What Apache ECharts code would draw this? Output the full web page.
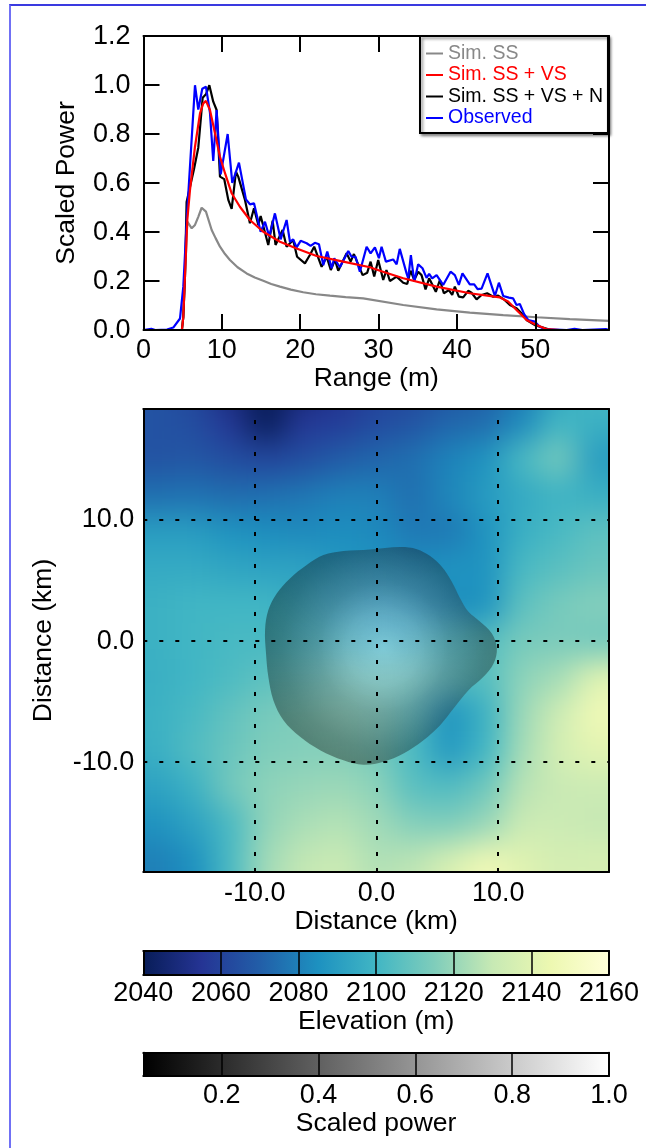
<!DOCTYPE html>
<html>
<head>
<meta charset="utf-8">
<title>Scaled power and elevation</title>
<script src="https://cdn.jsdelivr.net/npm/echarts@6/dist/echarts.min.js"></script>
<style>
  html, body { margin: 0; padding: 0; background: #fff; }
  #frame { position: absolute; left: 9px; top: 4px; width: 637px; height: 1144px; box-sizing: border-box;
    border-top: 2px solid #3a3ae0; border-left: 2px solid #7070f5; }
  #heatClip { position: absolute; left: 143px; top: 409px; width: 466px; height: 463px; overflow: hidden; }
  #heat { position: absolute; left: -41px; top: -42px; width: 548px; height: 548px; filter: blur(15px); }
  #main { position: absolute; left: 0; top: 0; width: 646px; height: 1148px; }
</style>
</head>
<body>
<div id="frame"></div>
<div id="heatClip"><div id="heat"></div></div>
<div id="main"></div>
<script>
// 读图得到的曲线数据 (range in m, scaled power)
const grayRange = [0, 4.9, 5.08, 5.29, 5.59, 6.15, 6.57, 6.99, 7.42, 7.97, 8.7, 9.2, 9.76, 10.4, 11.03, 12.0, 13.16, 14.2, 15.28, 16.3, 17.41, 18.8, 20.38, 22.0, 23.79, 25.8, 28.04, 33.14, 37.4, 41.64, 45.9, 50.15, 54.4, 59.4];
const grayPower = [0, 0, 0.054, 0.218, 0.442, 0.415, 0.429, 0.462, 0.499, 0.483, 0.408, 0.375, 0.34, 0.31, 0.286, 0.256, 0.231, 0.214, 0.201, 0.188, 0.177, 0.165, 0.154, 0.146, 0.14, 0.134, 0.129, 0.102, 0.084, 0.071, 0.061, 0.052, 0.044, 0.037];

const redRange = [0, 4.9, 5.08, 5.29, 5.59, 5.93, 6.57, 7.21, 7.63, 7.97, 8.48, 9.12, 9.76, 10.4, 11.25, 12.3, 13.58, 15.28, 17.41, 19.54, 22.09, 25.49, 28.9, 30.17, 33.14, 37.4, 41.64, 45.47, 46.53, 47.6, 48.88, 50.15, 51.4, 53.1, 59.4];
const redPower = [0, 0, 0.054, 0.218, 0.449, 0.571, 0.748, 0.884, 0.925, 0.935, 0.898, 0.803, 0.707, 0.64, 0.558, 0.503, 0.449, 0.401, 0.36, 0.333, 0.302, 0.279, 0.256, 0.242, 0.211, 0.177, 0.15, 0.133, 0.116, 0.082, 0.041, 0.02, 0.004, 0, 0];

const blackRange = [0, 4.9, 5.08, 5.29, 5.5, 6.44, 6.99, 7.55, 7.97, 8.4, 8.9, 9.33, 9.76, 10.3, 10.82, 11.25, 11.8, 12.09, 12.95, 13.58, 14.1, 14.65, 14.95, 15.92, 16.48, 16.85, 17.75, 18.26, 19.1, 19.6, 20.6, 21.23, 21.78, 22.73, 23.37, 23.9, 24.43, 24.85, 25.92, 26.43, 26.85, 27.96, 28.55, 28.98, 29.44, 29.95, 30.59, 31.0, 31.44, 32.3, 33.14, 33.65, 34.08, 34.55, 35.05, 35.48, 35.99, 36.45, 37.3, 37.82, 38.33, 38.97, 39.39, 39.73, 40.24, 40.79, 41.43, 41.86, 42.5, 43.14, 43.85, 44.62, 45.26, 46.11, 46.75, 47.6, 48.24, 48.88, 49.94, 52, 59.4];
const blackPower = [0, 0, 0.054, 0.218, 0.522, 0.656, 0.744, 0.948, 0.962, 0.999, 0.932, 0.898, 0.626, 0.616, 0.531, 0.494, 0.646, 0.626, 0.531, 0.436, 0.497, 0.429, 0.465, 0.347, 0.446, 0.347, 0.408, 0.34, 0.367, 0.299, 0.272, 0.306, 0.34, 0.258, 0.299, 0.245, 0.286, 0.242, 0.313, 0.279, 0.31, 0.224, 0.234, 0.279, 0.218, 0.286, 0.204, 0.245, 0.2, 0.218, 0.193, 0.188, 0.242, 0.204, 0.238, 0.224, 0.166, 0.211, 0.156, 0.204, 0.15, 0.163, 0.143, 0.177, 0.136, 0.133, 0.16, 0.152, 0.125, 0.143, 0.15, 0.136, 0.14, 0.122, 0.102, 0.089, 0.068, 0.041, 0.02, 0, 0];

const blueRange = [0, 1, 1.5, 3, 3.8, 4.66, 5.08, 5.59, 6.57, 6.99, 7.5, 7.97, 8.48, 8.9, 9.33, 9.85, 10.74, 11.33, 12.18, 13.07, 13.58, 14.1, 14.95, 15.5, 16.05, 16.77, 17.5, 18.26, 18.69, 19.1, 19.54, 20.05, 20.82, 21.32, 21.87, 22.39, 22.94, 23.45, 24.0, 24.34, 25.06, 26.13, 26.55, 27.06, 27.61, 28.47, 28.98, 29.53, 30.04, 30.38, 30.93, 31.86, 32.3, 32.7, 33.57, 33.78, 34.12, 34.55, 35.05, 35.6, 36.12, 36.45, 36.84, 37.4, 38.24, 39.18, 39.73, 40.24, 40.7, 41.64, 42.2, 42.63, 43.14, 43.9, 44.84, 45.35, 45.9, 46.62, 47.17, 47.6, 48.02, 48.57, 49.08, 49.94, 50.57, 51.2, 54, 55, 56, 59, 59.4];
const bluePower = [0, 0.005, 0, 0.002, 0.01, 0.047, 0.177, 0.49, 0.999, 0.9, 0.985, 0.993, 0.887, 0.69, 0.898, 0.635, 0.8, 0.6, 0.683, 0.533, 0.513, 0.517, 0.401, 0.442, 0.381, 0.476, 0.37, 0.449, 0.36, 0.37, 0.337, 0.364, 0.354, 0.343, 0.356, 0.35, 0.265, 0.32, 0.252, 0.293, 0.256, 0.322, 0.299, 0.299, 0.238, 0.34, 0.313, 0.337, 0.293, 0.34, 0.279, 0.288, 0.268, 0.331, 0.231, 0.211, 0.306, 0.197, 0.268, 0.252, 0.213, 0.229, 0.211, 0.224, 0.184, 0.238, 0.224, 0.184, 0.231, 0.186, 0.186, 0.167, 0.169, 0.231, 0.139, 0.193, 0.139, 0.132, 0.129, 0.102, 0.106, 0.065, 0.041, 0.034, 0.013, 0.004, 0, 0.005, 0, 0.004, 0];

// 高程网格 (km, 每格 3 km, 从上到下)
const heatX = [-21, -18, -15, -12, -9, -6, -3, 0, 3, 6, 9, 12, 15, 18, 21];
const heatY = [21, 18, 15, 12, 9, 6, 3, 0, -3, -6, -9, -12, -15, -18, -21];
const elevRows = [
  [2066, 2066, 2062, 2048, 2040, 2046, 2054, 2060, 2062, 2066, 2070, 2078, 2094, 2102, 2102],
  [2066, 2066, 2064, 2056, 2040, 2056, 2058, 2063, 2066, 2072, 2074, 2083, 2100, 2098, 2098],
  [2066, 2066, 2067, 2064, 2061, 2064, 2069, 2072, 2075, 2081, 2086, 2102, 2113, 2090, 2090],
  [2075, 2075, 2076, 2074, 2075, 2077, 2080, 2080, 2075, 2082, 2089, 2095, 2099, 2097, 2097],
  [2090, 2090, 2090, 2086, 2084, 2083, 2084, 2083, 2078, 2078, 2086, 2097, 2102, 2107, 2107],
  [2095, 2095, 2095, 2093, 2092, 2092, 2088, 2086, 2084, 2086, 2086, 2102, 2106, 2110, 2110],
  [2098, 2098, 2100, 2100, 2100, 2095, 2090, 2088, 2086, 2084, 2086, 2107, 2113, 2116, 2116],
  [2098, 2098, 2100, 2102, 2102, 2100, 2097, 2095, 2095, 2100, 2105, 2113, 2114, 2112, 2112],
  [2097, 2097, 2100, 2103, 2107, 2108, 2110, 2108, 2108, 2105, 2105, 2118, 2123, 2139, 2142],
  [2098, 2098, 2102, 2108, 2113, 2115, 2116, 2113, 2105, 2086, 2098, 2121, 2133, 2147, 2148],
  [2097, 2097, 2104, 2110, 2115, 2116, 2116, 2113, 2103, 2088, 2100, 2123, 2135, 2141, 2141],
  [2092, 2092, 2098, 2112, 2118, 2120, 2121, 2118, 2106, 2104, 2111, 2127, 2131, 2132, 2132],
  [2086, 2086, 2092, 2102, 2119, 2124, 2126, 2122, 2116, 2115, 2120, 2132, 2132, 2130, 2130],
  [2080, 2080, 2085, 2102, 2122, 2129, 2131, 2125, 2127, 2135, 2146, 2139, 2135, 2136, 2136],
  [2080, 2080, 2085, 2102, 2124, 2131, 2133, 2128, 2130, 2140, 2150, 2142, 2136, 2136, 2136]
];

// 亮斑轮廓 (km)
const contourX = [1.95, 3.32, 4.41, 5.37, 6.19, 6.88, 7.56, 8.52, 9.48, 9.89, 9.62, 8.79, 7.56, 6.33, 5.23, 3.86, 2.22, 0.58, -1.07, -2.71, -4.63, -6.27, -7.64, -8.47, -8.88, -9.07, -9.15, -8.88, -8.19, -7.1, -5.73, -4.36, -2.71, -0.52];
const contourY = [7.72, 7.55, 6.98, 6.1, 4.86, 3.49, 2.39, 1.57, 0.6, -0.63, -1.87, -2.97, -4.07, -5.58, -6.95, -8.19, -9.29, -9.97, -10.22, -9.84, -9.01, -7.91, -6.54, -4.89, -2.97, -1.04, 0.88, 2.53, 3.9, 5.14, 6.24, 7.06, 7.39, 7.53];

const mapTicks = [-10, 0, 10];
const powerTicks = [0.2, 0.4, 0.6, 0.8, 1.0];
const elevColors = ['#081d58', '#253494', '#225ea8', '#1d91c0', '#41b6c4', '#7fcdbb', '#c7e9b4', '#edf8b1', '#ffffd9'];

const FONT = 'Liberation Sans';
const LABEL = { fontFamily: FONT, fontSize: 27, color: '#000' };
const NAME = { fontFamily: FONT, fontSize: 26.5, color: '#000' };

// 高程底图单独一层，CSS 模糊后得到平滑效果
const heatChart = echarts.init(document.getElementById('heat'), null, { renderer: 'canvas' });
const heatData = [];
elevRows.forEach((row, j) => row.forEach((v, i) => heatData.push([i, j, v])));
heatChart.setOption({
  animation: false,
  grid: { left: 0, right: 0, top: 0, bottom: 0 },
  xAxis: { type: 'category', data: heatX, show: false },
  yAxis: { type: 'category', data: heatY, inverse: true, show: false },
  visualMap: { show: false, min: 2040, max: 2160, inRange: { color: elevColors } },
  series: [{ type: 'heatmap', data: heatData, progressive: 0 }]
});

// 四边坐标轴
function boxAxes(gridIndex, xMin, xMax, yMin, yMax, xOpt, yOpt) {
  const line = { show: true, onZero: false, lineStyle: { color: '#000', width: 2 } };
  const base = { gridIndex, type: 'value', z: 6, splitLine: { show: false }, axisLine: line };
  return {
    x: [
      Object.assign({}, base, { position: 'bottom', min: xMin, max: xMax }, xOpt),
      Object.assign({}, base, { position: 'top', min: xMin, max: xMax, axisLabel: { show: false },
        axisTick: xOpt.axisTick || { show: false }, interval: xOpt.interval })
    ],
    y: [
      Object.assign({}, base, { position: 'left', min: yMin, max: yMax }, yOpt),
      Object.assign({}, base, { position: 'right', min: yMin, max: yMax, axisLabel: { show: false },
        axisTick: yOpt.axisTick || { show: false }, interval: yOpt.interval })
    ]
  };
}

const inTick = { show: true, inside: true, length: 16, lineStyle: { color: '#000', width: 2 } };
const noTick = { show: false };
const fmt1 = (v) => v.toFixed(1);
// y 轴标签下移一点
const yPad = { verticalAlign: 'top', padding: [-13, 0, 0, 0] };

const topAxes = boxAxes(0, 0, 59.4, 0, 1.2,
  { interval: 10, axisTick: inTick, axisLabel: Object.assign({ showMaxLabel: false, margin: 7 }, LABEL),
    name: 'Range (m)', nameLocation: 'middle', nameGap: 24, nameTextStyle: NAME },
  { interval: 0.2, axisTick: inTick, axisLabel: Object.assign({ margin: 13, formatter: fmt1 }, LABEL, yPad),
    name: 'Scaled Power', nameLocation: 'middle', nameGap: 63, nameTextStyle: NAME });

const mapAxes = boxAxes(1, -19.15, 19.1, -19.05, 19.1,
  { axisTick: noTick, axisLabel: Object.assign({ customValues: mapTicks, margin: 8, formatter: fmt1 }, LABEL),
    name: 'Distance (km)', nameLocation: 'middle', nameGap: 26, nameTextStyle: NAME },
  { axisTick: noTick, axisLabel: Object.assign({ customValues: mapTicks, margin: 9, formatter: fmt1 }, LABEL, yPad),
    name: 'Distance (km)', nameLocation: 'middle', nameGap: 86, nameTextStyle: NAME });

const elevAxes = boxAxes(2, 2040, 2160, 0, 1,
  { interval: 20, axisTick: noTick, axisLabel: Object.assign({ margin: 6, formatter: (v) => String(v) }, LABEL),
    splitLine: { show: true, lineStyle: { color: '#000', width: 1.5 } },
    name: 'Elevation (m)', nameLocation: 'middle', nameGap: 33, nameTextStyle: NAME },
  { axisTick: noTick, axisLabel: { show: false } });

const powerAxes = boxAxes(3, 0.038, 1, 0, 1,
  { axisTick: noTick, axisLabel: Object.assign({ customValues: powerTicks, margin: 6, formatter: fmt1 }, LABEL),
    name: 'Scaled power', nameLocation: 'middle', nameGap: 28, nameTextStyle: NAME },
  { axisTick: noTick, axisLabel: { show: false } });

const allAxes = [topAxes, mapAxes, elevAxes, powerAxes];

function lineSeries(name, xs, ys, color) {
  return {
    name, type: 'line', xAxisIndex: 0, yAxisIndex: 0,
    data: xs.map((x, i) => [x, ys[i]]),
    symbol: 'none', showSymbol: false,
    lineStyle: { color, width: 2.2 }, itemStyle: { color }, z: 3
  };
}

// 颜色条
function barSeries(xi, yi, lo, hi, colors) {
  return {
    type: 'custom', xAxisIndex: xi, yAxisIndex: yi, silent: true, z: 2,
    data: [[lo, hi]],
    renderItem(params, api) {
      const a = api.coord([api.value(0), 1]);
      const b = api.coord([api.value(1), 0]);
      const stops = colors.map((c, i) => ({ offset: i / (colors.length - 1), color: c }));
      return {
        type: 'rect',
        shape: { x: a[0], y: a[1], width: b[0] - a[0], height: b[1] - a[1] },
        style: { fill: new echarts.graphic.LinearGradient(0, 0, 1, 0, stops) }
      };
    }
  };
}

const dashStyle = { color: '#000', width: 2, type: [4, 12] };

const option = {
  animation: false,
  grid: [
    { left: 143.5, top: 36, width: 465.5, height: 294 },
    { left: 143.3, top: 409, width: 465.7, height: 463 },
    { left: 143.3, top: 951, width: 465.7, height: 23.3 },
    { left: 143.3, top: 1052.7, width: 465.7, height: 23.3 }
  ],
  xAxis: allAxes.flatMap((a) => a.x),
  yAxis: allAxes.flatMap((a) => a.y),
  legend: {
    left: 420, top: 36, orient: 'vertical', selectedMode: false,
    itemWidth: 17, itemHeight: 14, itemGap: 0.5,
    padding: [7, 5, 4.5, 5],
    backgroundColor: '#fff', borderColor: '#000', borderWidth: 2,
    shadowColor: 'rgba(0,0,0,0.45)', shadowBlur: 3, shadowOffsetX: 2, shadowOffsetY: 2,
    z: 10,
    itemStyle: { opacity: 0 },
    textStyle: { fontFamily: FONT, fontSize: 19.5, lineHeight: 21 },
    data: [
      { name: 'Sim. SS', textStyle: { color: '#888888' } },
      { name: 'Sim. SS + VS', textStyle: { color: '#ff0000' } },
      { name: 'Sim. SS + VS + N', textStyle: { color: '#000000' } },
      { name: 'Observed', textStyle: { color: '#0000ff' } }
    ]
  },
  series: [
    lineSeries('Sim. SS', grayRange, grayPower, '#888888'),
    lineSeries('Sim. SS + VS + N', blackRange, blackPower, '#000000'),
    lineSeries('Observed', blueRange, bluePower, '#0000ff'),
    lineSeries('Sim. SS + VS', redRange, redPower, '#ff0000'),
    {
      // 散射功率轮廓叠加在高程图上，虚线网格也挂在这里
      type: 'custom', xAxisIndex: 2, yAxisIndex: 2, silent: true, z: 2,
      data: [[0, 0]],
      renderItem(params, api) {
        const points = contourX.map((x, i) => api.coord([x, contourY[i]]));
        return {
          type: 'polygon',
          shape: { points, smooth: 0.35 },
          style: {
            fill: new echarts.graphic.RadialGradient(0.51, 0.46, 0.55, [
              { offset: 0, color: 'rgba(255,255,255,0.33)' },
              { offset: 0.3, color: 'rgba(190,190,190,0.35)' },
              { offset: 0.55, color: 'rgba(100,100,100,0.36)' },
              { offset: 0.85, color: 'rgba(25,25,25,0.36)' },
              { offset: 1, color: 'rgba(0,0,0,0.36)' }
            ])
          }
        };
      },
      markLine: {
        silent: true, symbol: 'none', animation: false, label: { show: false },
        lineStyle: dashStyle,
        data: mapTicks.map((v) => ({ xAxis: v })).concat(mapTicks.map((v) => ({ yAxis: v })))
      }
    },
    barSeries(4, 4, 2040, 2160, elevColors),
    Object.assign(barSeries(6, 6, 0.038, 1, ['#000000', '#ffffff']), {
      markLine: {
        silent: true, symbol: 'none', animation: false, label: { show: false },
        lineStyle: { color: '#000', width: 1.5, type: 'solid' },
        data: powerTicks.slice(0, 4).map((v) => ({ xAxis: v }))
      }
    })
  ]
};

const chart = echarts.init(document.getElementById('main'), null, { renderer: 'canvas' });
chart.setOption(option);
</script>
</body>
</html>
